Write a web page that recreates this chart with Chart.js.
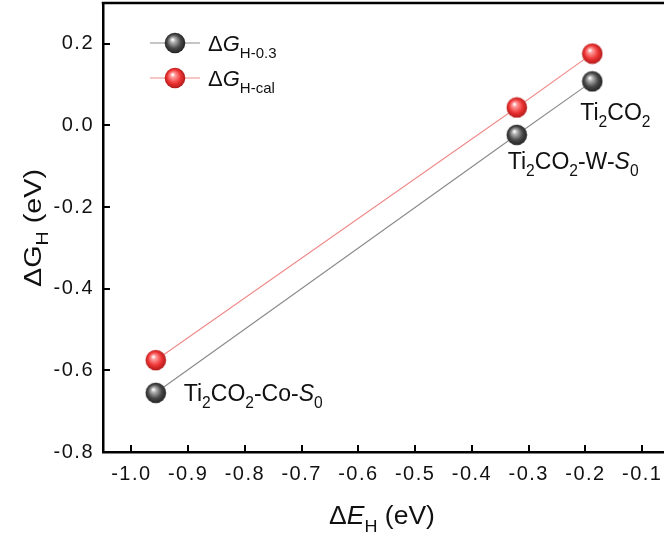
<!DOCTYPE html>
<html>
<head>
<meta charset="utf-8">
<script src="https://cdn.jsdelivr.net/npm/chart.js@4"></script>
<style>
html,body{margin:0;padding:0;overflow:hidden;background:#fff;}
#wrap{position:relative;width:720px;height:541px;}
</style>
</head>
<body>
<div id="wrap"><canvas id="c"></canvas></div>
<script>
// ---- data ----
const deltaE = [-0.957, -0.321, -0.188];
const gH03 = [-0.655, -0.023, 0.108];
const gHcal = [-0.575, 0.044, 0.176];
const xTicks = [-1.0, -0.9, -0.8, -0.7, -0.6, -0.5, -0.4, -0.3, -0.2, -0.1];
const yTicks = [-0.8, -0.6, -0.4, -0.2, 0.0, 0.2];
const pointNames = [
  [['Ti','n'],['2','s'],['CO','n'],['2','s'],['-Co-','n'],['S','i'],['0','s']],
  [['Ti','n'],['2','s'],['CO','n'],['2','s'],['-W-','n'],['S','i'],['0','s']],
  [['Ti','n'],['2','s'],['CO','n'],['2','s']]
];
const seriesNames = [
  [['\u0394','n'],['G','i'],['H-0.3','s']],
  [['\u0394','n'],['G','i'],['H-cal','s']]
];

const FONT = '"Liberation Sans", Arial, sans-serif';

function sphere(light, base, dark){
  const c = document.createElement('canvas');
  c.width = c.height = 22;
  const g = c.getContext('2d');
  const grd = g.createRadialGradient(8.5, 7.5, 0.5, 11, 11, 11);
  grd.addColorStop(0, '#ffffff');
  grd.addColorStop(0.18, light);
  grd.addColorStop(0.6, base);
  grd.addColorStop(1, dark);
  g.fillStyle = grd;
  g.beginPath(); g.arc(11, 11, 10.3, 0, Math.PI*2); g.fill();
  return c;
}
const blackBall = sphere('#b5b5b5', '#4a4a4a', '#1c1c1c');
const redBall = sphere('#ff9a9a', '#ee3434', '#a81616');

function segFont(kind, size){
  if (kind === 's') return (size*0.68).toFixed(1) + 'px ' + FONT;
  if (kind === 'i') return 'italic ' + size + 'px ' + FONT;
  return size + 'px ' + FONT;
}
function richWidth(ctx, segs, size){
  let w = 0;
  for (const [t,k] of segs){ ctx.font = segFont(k,size); w += ctx.measureText(t).width; }
  return w;
}
function drawRich(ctx, x, y, segs, size, align, stretch){
  stretch = stretch || 1;
  ctx.save();
  ctx.translate(x, y);
  ctx.scale(stretch, 1);
  let w = richWidth(ctx, segs, size);
  let cx = align === 'center' ? -w/2 : 0;
  ctx.textBaseline = 'alphabetic';
  ctx.textAlign = 'left';
  for (const [t,k] of segs){
    ctx.font = segFont(k,size);
    const dy = k === 's' ? size*0.3 : 0;
    ctx.fillText(t, cx, dy);
    cx += ctx.measureText(t).width;
  }
  ctx.restore();
}

const decor = {
  id: 'decor',
  beforeDraw(chart){ chart.ctx.letterSpacing = '1.5px'; },
  afterDraw(chart){
    const ctx = chart.ctx;
    ctx.letterSpacing = '0px';
    const a = chart.chartArea;
    const xs = chart.scales.x, ys = chart.scales.y;
    ctx.save();
    // top frame
    ctx.strokeStyle = '#000'; ctx.lineWidth = 2.5;
    ctx.beginPath(); ctx.moveTo(a.left - 1.25, a.top); ctx.lineTo(a.right, a.top); ctx.stroke();
    // inward ticks
    ctx.lineWidth = 2;
    ctx.beginPath();
    for (const v of xTicks){ const px = Math.round(xs.getPixelForValue(v)); ctx.moveTo(px, a.bottom); ctx.lineTo(px, a.bottom - 7); }
    for (const v of yTicks){ const py = Math.round(ys.getPixelForValue(v)); ctx.moveTo(a.left, py); ctx.lineTo(a.left + 7, py); }
    ctx.stroke();
    ctx.fillStyle = '#111';
    // axis titles
    drawRich(ctx, 382, 524, [['\u0394','n'],['E','i'],['H','s'],[' (eV)','n']], 25, 'center', 1.06);
    ctx.save();
    ctx.translate(41, 228);
    ctx.rotate(-Math.PI/2);
    drawRich(ctx, 0, 0, [['\u0394G','n'],['H','s'],[' (eV)','n']], 23, 'center', 1.25);
    ctx.restore();
    // point labels (relative to black points)
    const meta = chart.getDatasetMeta(0);
    const offs = [[28, 8], [-9, 34], [-12, 39]];
    meta.data.forEach((pt, i) => {
      drawRich(ctx, pt.x + offs[i][0], pt.y + offs[i][1], pointNames[i], 23, 'left');
    });
    // legend
    const lx = a.left + 47, ly = [a.top + 40, a.top + 75];
    const lineCols = ['#8c8c8c', '#f08c8c'];
    const balls = [blackBall, redBall];
    for (let i = 0; i < 2; i++){
      ctx.strokeStyle = lineCols[i]; ctx.lineWidth = 1.2;
      ctx.beginPath(); ctx.moveTo(lx, ly[i]); ctx.lineTo(lx + 50, ly[i]); ctx.stroke();
      ctx.drawImage(balls[i], lx + 25 - 11, ly[i] - 11);
      ctx.fillStyle = '#111';
      drawRich(ctx, lx + 58, ly[i] + 8, seriesNames[i], 22, 'left');
    }
    ctx.restore();
  }
};

new Chart(document.getElementById('c'), {
  type: 'scatter',
  data: {
    datasets: [
      {
        data: deltaE.map((x,i) => ({x, y: gH03[i]})),
        showLine: true, borderColor: '#8c8c8c', borderWidth: 1.2,
        pointStyle: blackBall, pointRadius: 11, pointHoverRadius: 11
      },
      {
        data: deltaE.map((x,i) => ({x, y: gHcal[i]})),
        showLine: true, borderColor: '#f08c8c', borderWidth: 1.2,
        pointStyle: redBall, pointRadius: 11, pointHoverRadius: 11
      }
    ]
  },
  options: {
    responsive: true, maintainAspectRatio: false, animation: false,
    layout: { autoPadding: false, padding: { left: 0, top: 3, right: 21, bottom: 0 } },
    plugins: { legend: { display: false }, tooltip: { enabled: false } },
    scales: {
      x: {
        type: 'linear', min: -1.05, max: 0.0,
        afterBuildTicks(s){ s.ticks = xTicks.map(v => ({value: v})); },
        afterFit(s){ s.height = 89; s.paddingLeft = 0; s.paddingRight = 0; },
        grid: { display: false, drawTicks: false },
        border: { display: true, color: '#000', width: 2.5 },
        ticks: { color: '#111', font: { family: FONT, size: 20 }, padding: 10,
                 maxRotation: 0, autoSkip: false,
                 callback: v => v.toFixed(1) }
      },
      y: {
        type: 'linear', min: -0.8, max: 0.3,
        afterBuildTicks(s){ s.ticks = yTicks.map(v => ({value: v})); },
        afterFit(s){ s.width = 103; s.paddingTop = 0; s.paddingBottom = 0; },
        grid: { display: false, drawTicks: false },
        border: { display: true, color: '#000', width: 2.5 },
        ticks: { color: '#111', font: { family: FONT, size: 20 }, padding: 9,
                 callback: v => v.toFixed(1) }
      }
    }
  },
  plugins: [decor]
});
</script>
</body>
</html>
